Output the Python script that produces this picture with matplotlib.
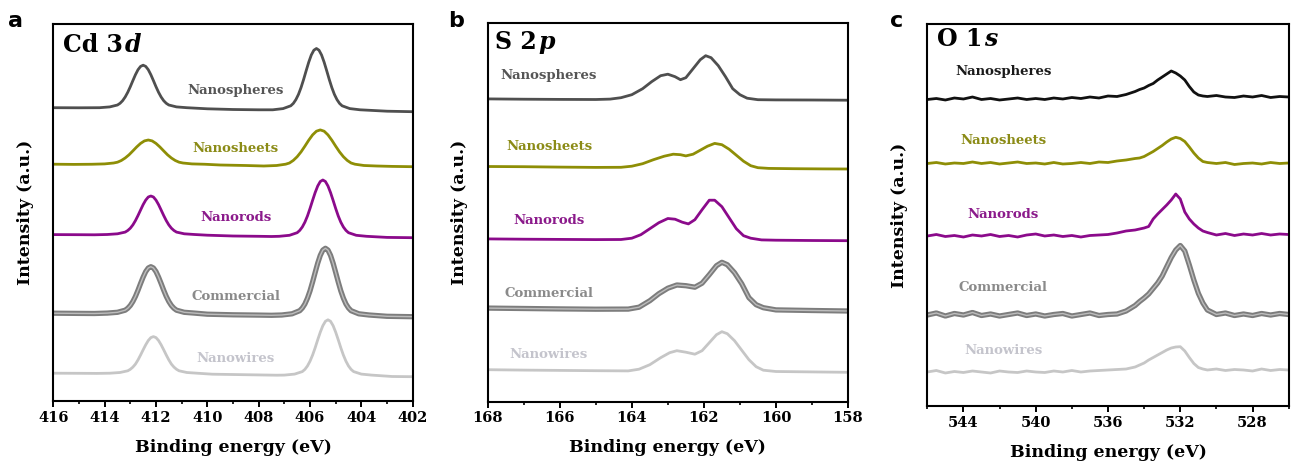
import matplotlib
matplotlib.use("Agg")
import matplotlib.pyplot as plt
from matplotlib.ticker import MultipleLocator

# ---------------- data (heights in a.u., stacked offsets included) ----------------
sample_names = ["Nanospheres", "Nanosheets", "Nanorods", "Commercial", "Nanowires"]

# Panel a: Cd 3d
cd_nanospheres_e = [416, 415, 414.2, 413.8, 413.5, 413.4, 413.3, 413.2, 413.1, 413.0, 412.9, 412.8, 412.7, 412.6,
                    412.5, 412.4, 412.3, 412.2, 412.1, 412.0, 411.9, 411.8, 411.7, 411.6, 411.5, 411.2, 410.8,
                    410, 409, 408,
                    407.45, 407.05, 406.75, 406.65, 406.55, 406.45, 406.35, 406.25, 406.15, 406.05, 405.95, 405.85,
                    405.75, 405.65, 405.55, 405.45, 405.35, 405.25, 405.15, 405.05, 404.95, 404.85, 404.75, 404.45,
                    404.05, 403, 402]
cd_nanospheres_i = [293.3, 293.2, 293.3, 294.1, 296.0, 297.7, 300.3, 304.0, 308.7, 314.3, 320.4, 326.3, 331.3, 334.6,
                    335.8, 334.6, 331.3, 326.3, 320.4, 314.3, 308.7, 304.0, 300.3, 297.7, 296.0, 294.1, 293.3,
                    292.2, 291.5, 291.2,
                    291.2, 292.4, 295.2, 297.6, 301.4, 306.6, 313.4, 321.5, 330.3, 338.8, 346.0, 350.8,
                    352.5, 350.8, 346.0, 338.8, 330.3, 321.5, 313.4, 306.6, 301.4, 297.6, 295.2, 292.4,
                    291.2, 289.8, 289.3]
cd_nanosheets_e = [416, 415.2,
                   414.5, 414.0, 413.65, 413.5, 413.35, 413.2, 413.05, 412.9, 412.75, 412.6, 412.45, 412.3,
                   412.15, 412.0, 411.85, 411.7, 411.55, 411.4, 411.25, 411.1, 410.95, 410.6, 410.1,
                   409.5, 408.5,
                   407.8, 407.3, 406.95, 406.8, 406.65, 406.5, 406.35, 406.2, 406.05, 405.9, 405.75, 405.6,
                   405.45, 405.3, 405.15, 405.0, 404.85, 404.7, 404.55, 404.4, 404.25, 403.9, 403.4,
                   402.8, 402]
cd_nanosheets_i = [236.8, 236.6,
                   236.75, 237.1, 238.0, 238.8, 240.5, 243.0, 246.2, 250.1, 254.1, 257.6, 260.1, 261.0,
                   260.1, 257.6, 254.1, 250.1, 246.2, 243.0, 240.5, 238.8, 238.0, 237.1, 236.75,
                   236.0, 235.5,
                   235.0, 235.5, 236.8, 238.0, 240.6, 244.3, 249.1, 254.8, 260.8, 266.1, 269.8, 271.1,
                   269.8, 266.1, 260.8, 254.8, 249.1, 244.3, 240.6, 238.0, 236.8, 235.5, 235.0,
                   234.6, 234.3]
cd_nanorods_e = [416, 415, 414.4,
                 413.9, 413.5, 413.2, 413.1, 413.0, 412.9, 412.8, 412.7, 412.6, 412.5, 412.4, 412.3, 412.2,
                 412.1, 412.0, 411.9, 411.8, 411.7, 411.6, 411.5, 411.4, 411.3, 411.2, 410.9, 410.5,
                 410, 409, 408, 407.5,
                 407.2, 406.8, 406.5, 406.4, 406.3, 406.2, 406.1, 406.0, 405.9, 405.8, 405.7, 405.6, 405.5,
                 405.4, 405.3, 405.2, 405.1, 405.0, 404.9, 404.8, 404.7, 404.6, 404.5, 404.2, 403.8,
                 403, 402]
cd_nanorods_i = [166.4, 166.3, 166.2,
                 166.5, 167.2, 168.9, 170.5, 172.8, 176.1, 180.4, 185.5, 191.0, 196.4, 200.9, 204.0, 205.0,
                 204.0, 200.9, 196.4, 191.0, 185.5, 180.4, 176.1, 172.8, 170.5, 168.9, 167.2, 166.5,
                 165.8, 165.0, 164.7, 164.5,
                 164.7, 165.7, 168.3, 170.6, 174.0, 178.8, 185.0, 192.5, 200.6, 208.4, 215.0, 219.5, 221.0,
                 219.5, 215.0, 208.4, 200.6, 192.5, 185.0, 178.8, 174.0, 170.6, 168.3, 165.7, 164.7,
                 163.6, 163.3]
cd_commercial_e = [416, 415, 414.4,
                   413.9, 413.5, 413.2, 413.1, 413.0, 412.9, 412.8, 412.7, 412.6, 412.5, 412.4, 412.3, 412.2,
                   412.1, 412.0, 411.9, 411.8, 411.7, 411.6, 411.5, 411.4, 411.3, 411.2, 410.9, 410.5,
                   410, 409, 408, 407.5,
                   407.1, 406.7, 406.4, 406.3, 406.2, 406.1, 406.0, 405.9, 405.8, 405.7, 405.6, 405.5, 405.4,
                   405.3, 405.2, 405.1, 405.0, 404.9, 404.8, 404.7, 404.6, 404.5, 404.4, 404.1, 403.7,
                   403, 402]
cd_commercial_i = [87.8, 87.6, 87.5,
                   87.9, 88.7, 90.8, 92.7, 95.5, 99.5, 104.6, 110.8, 117.5, 123.9, 129.4, 133.0, 134.3,
                   133.0, 129.4, 123.9, 117.5, 110.8, 104.6, 99.5, 95.5, 92.7, 90.8, 88.7, 87.9,
                   86.8, 86.2, 85.9, 85.7,
                   86.0, 87.2, 90.3, 93.0, 97.0, 102.8, 110.1, 119.0, 128.5, 137.8, 145.6, 150.9, 152.7,
                   150.9, 145.6, 137.8, 128.5, 119.0, 110.1, 102.8, 97.0, 93.0, 90.3, 87.2, 86.0,
                   84.7, 84.3]
cd_nanowires_e = [416, 415, 414.3,
                  413.8, 413.4, 413.1, 413.0, 412.9, 412.8, 412.7, 412.6, 412.5, 412.4, 412.3, 412.2, 412.1,
                  412.0, 411.9, 411.8, 411.7, 411.6, 411.5, 411.4, 411.3, 411.2, 411.1, 410.8, 410.4,
                  409.8, 408.8, 407.8, 407.3,
                  407.0, 406.6, 406.3, 406.2, 406.1, 406.0, 405.9, 405.8, 405.7, 405.6, 405.5, 405.4, 405.3,
                  405.2, 405.1, 405.0, 404.9, 404.8, 404.7, 404.6, 404.5, 404.4, 404.3, 404.0, 403.6,
                  402.8, 402]
cd_nanowires_i = [27.8, 27.7, 27.6,
                  27.8, 28.5, 30.2, 31.7, 33.9, 36.9, 41.1, 46.0, 51.2, 56.2, 60.5, 63.4, 64.4,
                  63.4, 60.5, 56.2, 51.2, 46.0, 41.1, 36.9, 33.9, 31.7, 30.2, 28.5, 27.8,
                  26.8, 26.4, 26.0, 25.8,
                  25.9, 26.9, 29.4, 31.6, 35.0, 39.8, 45.9, 53.2, 61.2, 68.8, 75.3, 79.7, 81.2,
                  79.7, 75.3, 68.8, 61.2, 53.2, 45.9, 39.8, 35.0, 31.6, 29.4, 26.9, 25.9,
                  24.5, 24.3]

# Panel b: S 2p
s_nanospheres_e = [168, 167, 166, 165, 164.6, 164.3, 164.0, 163.7, 163.45, 163.2, 163.0, 162.8, 162.65, 162.5, 162.3,
                   162.1, 161.95, 161.8, 161.6, 161.4, 161.2, 161.0, 160.8, 160.5, 160, 159, 158]
s_nanospheres_i = [302.8, 302.5, 302.3, 302.2, 302.6, 304, 307, 313, 320, 326, 327.5, 325, 322, 324, 333,
                   342, 346, 344, 336, 325, 313, 307, 303.5, 302, 301.8, 301.7, 301.5]
s_nanosheets_e = [168, 167, 166, 165, 164.3, 164.0, 163.7, 163.4, 163.1, 162.85, 162.65, 162.5, 162.3, 162.1, 161.9,
                  161.7, 161.5, 161.3, 161.1, 160.9, 160.7, 160.5, 160.2, 159.5, 158.7, 158]
s_nanosheets_i = [235.2, 235.0, 234.6, 234.3, 234.4, 235.5, 238, 242, 245.5, 247.5, 247, 245.8, 247.5, 251.5, 255.5,
                  258.3, 257, 252.5, 246.5, 240.5, 236, 234, 233.3, 233, 232.8, 232.7]
s_nanorods_e = [168, 167, 166, 165, 164.3, 164.0, 163.75, 163.5, 163.25, 163.0, 162.8, 162.6, 162.43, 162.25, 162.05,
                161.85, 161.7, 161.5, 161.3, 161.1, 160.9, 160.7, 160.4, 160, 159, 158]
s_nanorods_i = [162.8, 162.5, 162.3, 162.1, 162.2, 163.5, 167, 173, 179, 183.2, 182.5, 179.5, 177.8, 182, 192,
                201.5, 201.5, 195, 184, 173, 166, 163.5, 161.8, 161.5, 161.2, 161]
s_commercial_e = [168, 167, 166, 165, 164.1, 163.8, 163.5, 163.25, 163.0, 162.75, 162.5, 162.25, 162.05, 161.85, 161.65,
                  161.5, 161.35, 161.15, 160.95, 160.75, 160.55, 160.35, 160.0, 159, 158]
s_commercial_i = [93.6, 93.2, 92.8, 92.5, 92.6, 94.5, 101, 108, 113.5, 116.7, 116, 114.5, 118.5, 127, 136,
                  139.4, 137, 129, 118, 104, 97, 94, 91.8, 91.2, 90.7]
s_nanowires_e = [168, 167, 166, 165, 164.1, 163.8, 163.5, 163.2, 162.95, 162.75, 162.5, 162.25, 162.05, 161.85, 161.65,
                 161.5, 161.35, 161.15, 160.95, 160.75, 160.55, 160.35, 160.0, 159, 158]
s_nanowires_i = [32, 31.6, 31.3, 31, 30.8, 32.5, 37, 44, 49, 51, 49.5, 47.5, 51, 59, 67,
                 70, 68, 61, 51.5, 42, 35, 31.5, 30.2, 29.8, 29.4]

# Panel c: O 1s (shared energy grid)
o_energy = [546, 545.5, 545, 544.5, 544, 543.5, 543, 542.5, 542, 541.5, 541, 540.5, 540, 539.5, 539, 538.5, 538,
            537.5, 537, 536.5, 536, 535.5, 535, 534.5,
            534.25, 534, 533.75, 533.5, 533.25, 533, 532.75, 532.5, 532.25, 532, 531.75, 531.5, 531.25, 531,
            530.75, 530.5,
            530, 529.5, 529, 528.5, 528, 527.5, 527, 526.5, 526]
o_nanospheres_i = [306.5, 307.5, 306, 308, 307, 309, 306.5, 307.5, 306, 307, 308, 306.5, 307.5, 306.5, 308, 307, 308.5,
                   307.5, 309, 308, 310, 309.5, 311.5, 314.5,
                   316.5, 318, 320.5, 322.5, 326, 329, 332, 335, 333, 330, 326, 319.5, 314, 311, 310, 309.5,
                   310.5, 309, 308.5, 310, 309, 310.5, 308.5, 309.5, 309]
o_nanosheets_i = [242.5, 243.5, 242, 243, 242.5, 244, 242.5, 243.5, 242, 243, 244, 242.5, 243, 242, 243.5, 242, 242.5,
                  243.5, 242.5, 244, 243.5, 245, 246, 247.5,
                  248, 249.5, 252, 254.5, 257.5, 260.5, 264, 267, 268.7, 267.5, 264.5, 259, 253, 248, 244.5, 243.5,
                  242.5, 243.5, 241.5, 242.5, 243, 242, 243.5, 242.5, 243]
o_nanorods_i = [170, 171.5, 169.5, 170.5, 169, 171, 170, 171.5, 169.5, 170.5, 169, 171, 172, 170, 171, 169.5, 170.5,
                169, 170.5, 171, 171.5, 173, 175, 176,
                177, 178, 179.5, 187, 192, 196.5, 201, 206, 212, 207, 194, 187, 182, 178, 175, 173.5,
                171, 172.5, 170.5, 172, 171, 172.5, 171, 172, 171.5]
o_commercial_i = [91, 93, 90, 92.5, 91, 93.5, 90.5, 92, 90, 91.5, 93, 90.5, 92, 90, 91.5, 92.5, 90,
                  91.5, 93, 90.5, 91.5, 92, 95, 100.5,
                  104.5, 108, 112, 117.5, 123, 130, 139.3, 148.5, 156, 160.5, 155, 141, 126, 112.7, 103, 96,
                  91.5, 93, 90.5, 92, 90.5, 92.5, 91, 92.5, 91.5]
o_nanowires_i = [34, 35.5, 33, 34.5, 33.5, 35, 34, 33, 35, 34, 33.5, 35, 34, 33.5, 35, 34, 35.5,
                 34, 35, 35.5, 36, 36.5, 37, 39,
                 41, 43, 46, 48.5, 51, 53.5, 56, 58, 59, 59.3, 55, 48.5, 42.5, 38.5, 37, 36,
                 37, 35.5, 36.5, 36, 35, 37, 35.5, 36.5, 36]

# label anchor positions (energy, height) per panel
cd_label_x = 408.9
cd_label_y = [310.3, 252.3, 183.7, 104.3, 42.0]
s_label_x = 166.3
s_label_y = [325.7, 255.0, 181.0, 108.4, 46.7]
o_label_x = 541.8
o_label_y = [334.3, 265.3, 191.0, 118.7, 55.0]

# ---------------- style ----------------
serif = ["DejaVu Serif"]
line_colors_ab = ["#4f4f4f", "#8e8e06", "#8b0a8b", "#7d7d7d", "#c6c6c6"]
line_colors_c = ["#111111", "#8e8e06", "#8b0a8b", "#7d7d7d", "#c6c6c6"]
text_colors_ab = ["#555555", "#8b8b16", "#8b1a8b", "#8a8a8a", "#c4c4cc"]
text_colors_c = ["#1a1a1a", "#8b8b16", "#8b1a8b", "#8a8a8a", "#c4c4cc"]

fig = plt.figure(figsize=(12.93, 4.71), dpi=100)
W, H = 1293, 471

def make_ax(l, r, t, b):
    return fig.add_axes([l / W, (H - b) / H, (r - l) / W, (b - t) / H])

ax_a = make_ax(53.3, 412.7, 24, 401)
ax_b = make_ax(487.7, 848.0, 23, 401.7)
ax_c = make_ax(927.3, 1288.7, 24, 406)

def draw_series(ax, e, i, color, commercial=False):
    if commercial:
        ax.plot(e, i, color=color, lw=3.8, solid_capstyle="round", solid_joinstyle="round")
        ax.plot(e, i, color="#bdbdbd", lw=1.0, solid_capstyle="round", solid_joinstyle="round")
    else:
        ax.plot(e, i, color=color, lw=2.0, solid_capstyle="round", solid_joinstyle="round")

def add_panel(ax, es, is_, line_colors, text_colors, lx, ly):
    for k in range(5):
        draw_series(ax, es[k], is_[k], line_colors[k], commercial=(k == 3))
        ax.text(lx, ly[k], sample_names[k], color=text_colors[k], fontfamily=serif,
                fontweight="bold", fontsize=9.5, ha="center", va="center")

add_panel(ax_a,
          [cd_nanospheres_e, cd_nanosheets_e, cd_nanorods_e, cd_commercial_e, cd_nanowires_e],
          [cd_nanospheres_i, cd_nanosheets_i, cd_nanorods_i, cd_commercial_i, cd_nanowires_i],
          line_colors_ab, text_colors_ab, cd_label_x, cd_label_y)
add_panel(ax_b,
          [s_nanospheres_e, s_nanosheets_e, s_nanorods_e, s_commercial_e, s_nanowires_e],
          [s_nanospheres_i, s_nanosheets_i, s_nanorods_i, s_commercial_i, s_nanowires_i],
          line_colors_ab, text_colors_ab, s_label_x, s_label_y)
add_panel(ax_c,
          [o_energy] * 5,
          [o_nanospheres_i, o_nanosheets_i, o_nanorods_i, o_commercial_i, o_nanowires_i],
          line_colors_c, text_colors_c, o_label_x, o_label_y)

def finish(ax, xlim, ylim, major, minor, ticks=None):
    ax.set_xlim(*xlim)
    ax.set_ylim(*ylim)
    ax.xaxis.set_major_locator(MultipleLocator(major))
    ax.xaxis.set_minor_locator(MultipleLocator(minor))
    if ticks is not None:
        ax.set_xticks(ticks)
    ax.set_yticks([])
    ax.tick_params(axis="x", which="major", direction="out", length=4, width=1.4, pad=3)
    ax.tick_params(axis="x", which="minor", direction="out", length=2.5, width=1.2)
    for lab in ax.get_xticklabels():
        lab.set_fontfamily(serif)
        lab.set_fontweight("bold")
        lab.set_fontsize(10.5)
    for sp in ax.spines.values():
        sp.set_linewidth(1.5)
    ax.set_xlabel("Binding energy (eV)", fontfamily=serif, fontweight="bold", fontsize=12.5, labelpad=10)
    ax.set_ylabel("Intensity (a.u.)", fontfamily=serif, fontweight="bold", fontsize=12.5, labelpad=14)

finish(ax_a, (416, 402), (0, 377), 2, 1)
finish(ax_b, (168, 158), (0, 378.7), 2, 1)
finish(ax_c, (546, 526), (0, 382), 4, 2, ticks=[544, 540, 536, 532, 528])

# panel titles (element + italic orbital)
fig.canvas.draw()
def title(ax, main, orb, x, y):
    t = ax.text(x, y, main, transform=ax.transAxes, fontfamily=serif, fontweight="bold",
                fontsize=17, va="center", ha="left")
    fig.canvas.draw()
    bb = t.get_window_extent()
    inv = ax.transAxes.inverted()
    x2 = inv.transform((bb.x1 + 1.5, bb.y0))[0]
    ax.text(x2, y, orb, transform=ax.transAxes, fontfamily=serif, fontweight="bold", style="italic",
            fontsize=17, va="center", ha="left")

title(ax_a, "Cd 3", "d", 0.027, 0.944)
title(ax_b, "S 2", "p", 0.020, 0.951)
title(ax_c, "O 1", "s", 0.026, 0.960)

# panel letters
for letter, x in (("a", 8), ("b", 448), ("c", 890)):
    fig.text(x / W, 1 - 21 / H, letter, fontfamily=["DejaVu Sans"], fontweight="bold", fontsize=16,
             ha="left", va="center")

fig.savefig("out.png", dpi=100)
